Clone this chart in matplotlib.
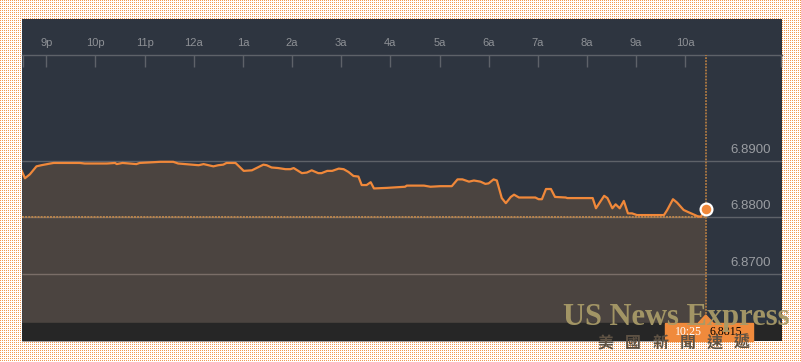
import numpy as np
import matplotlib.pyplot as plt
import matplotlib.transforms as mtransforms
from matplotlib.patches import Rectangle, Polygon

times = ['20:30', '20:34', '20:40', '20:48', '20:54', '21:05', '21:09', '21:41', '21:47', '22:14',
         '22:24', '22:26', '22:33', '22:50', '22:54', '23:07', '23:19', '23:35', '23:41', '00:06',
         '00:12', '00:24', '00:30', '00:36', '00:40', '00:51', '01:01', '01:11', '01:25', '01:29',
         '01:35', '01:43', '01:52', '01:58', '02:02', '02:12', '02:18', '02:24', '02:32', '02:36',
         '02:43', '02:49', '02:57', '03:03', '03:09', '03:15', '03:21', '03:25', '03:31', '03:36',
         '03:40', '03:56', '04:18', '04:20', '04:41', '04:49', '05:01', '05:15', '05:22', '05:28',
         '05:36', '05:42', '05:50', '05:56', '06:00', '06:06', '06:10', '06:16', '06:21', '06:27',
         '06:31', '06:37', '06:57', '07:01', '07:05', '07:10', '07:16', '07:21', '07:34', '07:36',
         '08:07', '08:11', '08:21', '08:25', '08:31', '08:35', '08:40', '08:45', '08:50', '08:55',
         '09:01', '09:34', '09:38', '09:45', '09:50', '09:58', '10:04', '10:15', '10:19', '10:25']
rates = [6.8882, 6.8869, 6.8876, 6.8890, 6.8892, 6.8895, 6.8896, 6.8896, 6.8895, 6.8895,
         6.8896, 6.8894, 6.8896, 6.8894, 6.8896, 6.8897, 6.8898, 6.8898, 6.8895, 6.8892,
         6.8894, 6.8890, 6.8892, 6.8893, 6.8896, 6.8896, 6.8882, 6.8883, 6.8893, 6.8892,
         6.8888, 6.8887, 6.8885, 6.8885, 6.8887, 6.8878, 6.8879, 6.8883, 6.8878, 6.8878,
         6.8882, 6.8882, 6.8886, 6.8885, 6.8880, 6.8873, 6.8872, 6.8857, 6.8857, 6.8862,
         6.8851, 6.8852, 6.8854, 6.8856, 6.8856, 6.8854, 6.8855, 6.8855, 6.8867, 6.8867,
         6.8863, 6.8865, 6.8863, 6.8859, 6.8860, 6.8867, 6.8865, 6.8834, 6.8825, 6.8836,
         6.8840, 6.8835, 6.8835, 6.8832, 6.8832, 6.8850, 6.8850, 6.8836, 6.8835, 6.8834,
         6.8834, 6.8816, 6.8838, 6.8834, 6.8816, 6.8823, 6.8816, 6.8829, 6.8807, 6.8807,
         6.8804, 6.8804, 6.8813, 6.8832, 6.8826, 6.8813, 6.8809, 6.8802, 6.8801, 6.8815]

tick_labels = ['9p', '10p', '11p', '12a', '1a', '2a', '3a', '4a', '5a', '6a', '7a', '8a', '9a', '10a']
tick_hours = list(range(len(tick_labels)))  # hours after 9p
grid_levels = [6.8700, 6.8800, 6.8900]
prev_close = 6.8800
last_label = '10:25'


def to_hours(s):
    h, m = map(int, s.split(':'))
    if h < 12:
        h += 24
    return h + m / 60 - 21


t = np.array([to_hours(s) for s in times])
last_t = t[-1]
last_rate = rates[-1]

orange = '#f0883a'
panel = '#2e3540'
grey = '#5e6269'

plt.rcParams['font.family'] = ['Liberation Sans', 'DejaVu Sans']

fig = plt.figure(figsize=(8.01, 3.62), dpi=100)
bg = np.ones((362, 801, 3))
bg[::2, ::2] = [0.95, 0.6, 0.32]
fig.figimage(bg, 0, 0, zorder=-1)

ax = fig.add_axes([22 / 801, 21 / 362, 760 / 801, 322 / 362])
ax.set_facecolor(panel)
xl, xr = -0.494, 14.968
ax.set_xlim(xl, xr)
ax.set_ylim(6.85817, 6.91501)

for lvl in grid_levels:
    ax.axhline(lvl, color=grey, lw=1, zorder=1)
    if lvl < min(rates):
        ax.hlines(lvl, xl, last_t, color='#7a6e68', lw=1, zorder=3)

ax.fill_between(t, rates, 6.85817, color='#4b4440', lw=0, zorder=2)
ax.hlines(prev_close, xl, last_t, color='#b8844c', lw=1.4, linestyles=(0, (1, 0.6)), zorder=3)
ax.plot(t, rates, color=orange, lw=1.6, zorder=4)
ax.add_patch(Rectangle((0, 0), 1, 18 / 322, transform=ax.transAxes, color='#262626', zorder=5))
ax.axvline(last_t, ymin=18 / 322, ymax=286 / 322, color='#b07a42', lw=1.3,
           linestyle=(0, (1, 0.7)), zorder=5)
ax.plot(last_t, last_rate, 'o', ms=8.5, mfc=orange, mec='white', mew=1.6, zorder=6)

# top time axis
for s in ['left', 'right', 'bottom']:
    ax.spines[s].set_visible(False)
ax.spines['top'].set_position(('data', 6.90866))
ax.spines['top'].set_color(grey)
ax.spines['top'].set_linewidth(1)
ax.xaxis.tick_top()
ax.set_xticks(tick_hours)
ax.set_xticklabels(tick_labels)
ax.set_xticks([xl + 0.02, xr - 0.02], minor=True)
ax.tick_params(axis='x', which='both', direction='in', length=8.6, width=1, color=grey,
               labelcolor='#8e9196', labelsize=8, pad=5)
ax.set_yticks([])

for lvl in grid_levels:
    ax.annotate(f'{lvl:.4f}', xy=(1, lvl), xycoords=('axes fraction', 'data'),
                xytext=(-8, 5.8), textcoords='offset points', ha='right', va='baseline',
                color='#9a9da2', fontsize=9.5)

# last value tag
blend = mtransforms.blended_transform_factory(ax.transData, ax.transAxes)
ax.add_patch(Rectangle((last_t - 0.835, 0), 1.79, 18 / 322, transform=blend,
                       color='#f08a3c', zorder=7, clip_on=False))
ax.add_patch(Polygon([(last_t - 0.15, 18 / 322), (last_t + 0.15, 18 / 322), (last_t, 26 / 322)],
                     transform=blend, color='#f08a3c', zorder=7, clip_on=False))
ax.annotate(last_label, xy=(last_t, 9 / 322), xycoords=blend, xytext=(-12.5, 0),
            textcoords='offset points', ha='center', va='center', color='white',
            family='Liberation Serif', fontsize=8.5, zorder=8)
ax.annotate(f'{last_rate:.4f}', xy=(last_t, 9 / 322), xycoords=blend, xytext=(14.8, 0),
            textcoords='offset points', ha='center', va='center', color='black',
            family='Liberation Serif', fontsize=8.5, zorder=8)

# watermark
fig.text(676 / 801, 1 - 317 / 362, 'US News Express', ha='center', va='center', fontsize=22,
         family='Liberation Serif', weight='bold', color='#a89a68', alpha=0.95, zorder=10)
for i, ch in enumerate('美國新聞速遞'):
    fig.text((606 + i * 27.2) / 801, 1 - 343 / 362, ch, ha='center', va='center', fontsize=11.5,
             family=['Noto Sans CJK TC', 'DejaVu Sans'], weight='bold', color='#5e5244', zorder=10)

fig.savefig('out.png', dpi=100)
